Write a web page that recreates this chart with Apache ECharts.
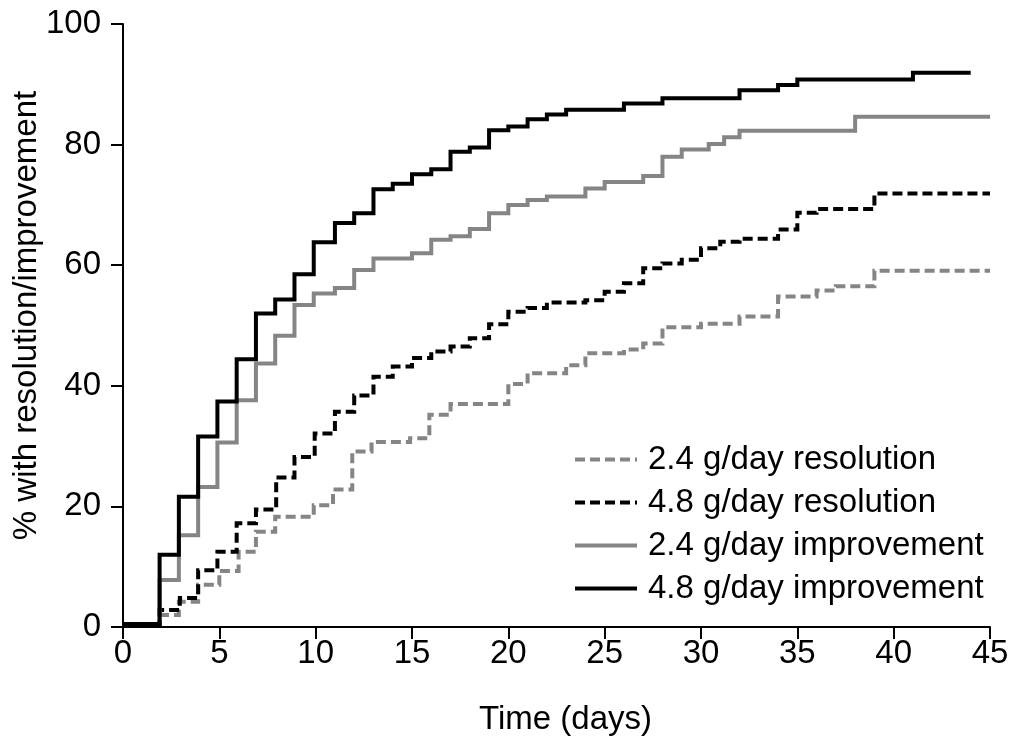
<!DOCTYPE html>
<html>
<head>
<meta charset="utf-8">
<script src="https://cdn.jsdelivr.net/npm/echarts@6/dist/echarts.min.js"></script>
<style>
html,body{margin:0;padding:0;background:#fff;}
#chart{width:1013px;height:740px;}
</style>
</head>
<body>
<div id="chart"></div>
<script>
// ---- data ----
const seriesNames = ['2.4 g/day resolution', '4.8 g/day resolution', '2.4 g/day improvement', '4.8 g/day improvement'];

const res24Days = [0, 1.9, 2.9, 3.9, 5, 6, 6.9, 7.9, 9.9, 10.9, 11.9, 12.9, 14.9, 15.9, 17, 20, 21, 23, 24, 26, 27, 28, 30, 32, 34, 36, 37, 39, 45];
const res24Pct  = [0.5, 2, 4.2, 7, 9.3, 12.5, 15.8, 18.3, 20.2, 22.8, 29.1, 30.7, 31.3, 35.2, 37, 40.3, 42.1, 43.4, 45.4, 46, 47, 49.7, 50.3, 51.5, 54.8, 55.8, 56.5, 59.1, 59.1];

const res48Days = [0, 1.9, 2.95, 3.9, 4.9, 5.9, 6.9, 7.95, 8.9, 9.95, 11, 12, 13, 14, 15, 16, 17, 18, 19, 20, 21, 22, 24, 25, 26, 27, 28, 29, 30, 31, 32, 34, 35, 36, 39, 45];
const res48Pct  = [0.5, 2.8, 4.8, 9.4, 12.5, 17.2, 19.5, 24.8, 28.2, 32.1, 35.7, 38.4, 41.5, 43.2, 44.6, 45.7, 46.5, 47.9, 50.2, 52.3, 52.9, 53.8, 54.2, 55.6, 57, 59.5, 60.3, 60.9, 62.8, 63.9, 64.4, 65.9, 68.7, 69.3, 71.9, 71.9];

const imp24Days = [0, 1.9, 2.9, 3.9, 4.9, 5.9, 6.9, 7.9, 8.9, 9.9, 11, 12, 13, 15, 16, 17, 18, 19, 20, 21, 22, 24, 25, 27, 28, 29, 30.4, 31.2, 32, 38, 45];
const imp24Pct  = [0.5, 7.8, 15.2, 23.2, 30.6, 37.6, 43.7, 48.3, 53.4, 55.3, 56.2, 59.2, 61.1, 62, 64.2, 64.8, 66, 68.6, 70, 70.8, 71.4, 72.7, 73.8, 74.8, 78, 79.2, 80.1, 81.2, 82.3, 84.6, 84.6];

const imp48Days = [0, 1.9, 2.9, 3.9, 4.9, 5.9, 6.9, 7.9, 8.9, 9.9, 11, 12, 13, 14, 15, 16, 17, 18, 19, 20, 21, 22, 23, 26, 28, 32, 34, 35, 41, 44];
const imp48Pct  = [0.5, 12, 21.6, 31.6, 37.4, 44.4, 52, 54.3, 58.5, 63.8, 67, 68.6, 72.6, 73.5, 75.1, 75.9, 78.8, 79.5, 82.4, 83, 84.2, 85, 85.8, 86.8, 87.7, 89, 89.9, 90.8, 91.9, 91.9];

const xTicks = [0, 5, 10, 15, 20, 25, 30, 35, 40, 45];
const yTicks = [0, 20, 40, 60, 80, 100];

// ---- build ----
function pairs(xs, ys){ return xs.map((x, i) => [x, ys[i]]); }
const GRAY = '#858585', BLACK = '#000000';
const FONT = 'Liberation Sans, Arial, sans-serif';
const FS = 33;

const chart = echarts.init(document.getElementById('chart'), null, {renderer: 'canvas'});
const mk = (name, data, color, dashed) => ({
  name, type: 'line', step: 'end', data, symbol: 'none', showSymbol: false,
  lineStyle: {color, width: 4, type: dashed ? [10, 5] : 'solid', cap: 'butt', join: 'miter'},
  itemStyle: {color}, z: 3, animation: false
});

chart.setOption({
  animation: false,
  backgroundColor: '#ffffff',
  grid: {left: 123, right: 23, top: 24, bottom: 113, containLabel: false, outerBoundsMode: 'none'},
  xAxis: {
    type: 'value', min: xTicks[0], max: xTicks[xTicks.length - 1], interval: 5,
    name: 'Time (days)', nameLocation: 'middle', nameGap: 76, nameMoveOverlap: false,
    nameTextStyle: {color: '#000', fontSize: FS, fontFamily: FONT, padding: [0, 0, 0, 18]},
    axisLine: {show: true, onZero: false, lineStyle: {color: '#000', width: 2}},
    axisTick: {show: true, inside: false, length: 12, lineStyle: {color: '#000', width: 2}},
    axisLabel: {color: '#000', fontSize: FS, fontFamily: FONT, margin: 10},
    splitLine: {show: false}
  },
  yAxis: {
    type: 'value', min: yTicks[0], max: yTicks[yTicks.length - 1], interval: 20,
    name: '% with resolution/improvement', nameLocation: 'middle', nameGap: 80, nameRotate: 90,
    nameMoveOverlap: false,
    nameTextStyle: {color: '#000', fontSize: FS, fontFamily: FONT, padding: [0, 0, 0, 20]},
    axisLine: {show: true, lineStyle: {color: '#000', width: 2}},
    axisTick: {show: true, inside: false, length: 12, lineStyle: {color: '#000', width: 2}},
    axisLabel: {color: '#000', fontSize: FS, fontFamily: FONT, margin: 22},
    splitLine: {show: false}
  },
  legend: {
    orient: 'vertical', left: 568, top: 438, itemWidth: 62, itemHeight: 14, itemGap: 10,
    itemStyle: {opacity: 0},
    lineStyle: {width: 4},
    textStyle: {color: '#000', fontSize: FS, fontFamily: FONT, padding: [0, 0, 0, 6]},
    data: seriesNames
  },
  series: [
    mk(seriesNames[0], pairs(res24Days, res24Pct), GRAY, true),
    mk(seriesNames[1], pairs(res48Days, res48Pct), BLACK, true),
    mk(seriesNames[2], pairs(imp24Days, imp24Pct), GRAY, false),
    mk(seriesNames[3], pairs(imp48Days, imp48Pct), BLACK, false)
  ]
});
</script>
</body>
</html>
